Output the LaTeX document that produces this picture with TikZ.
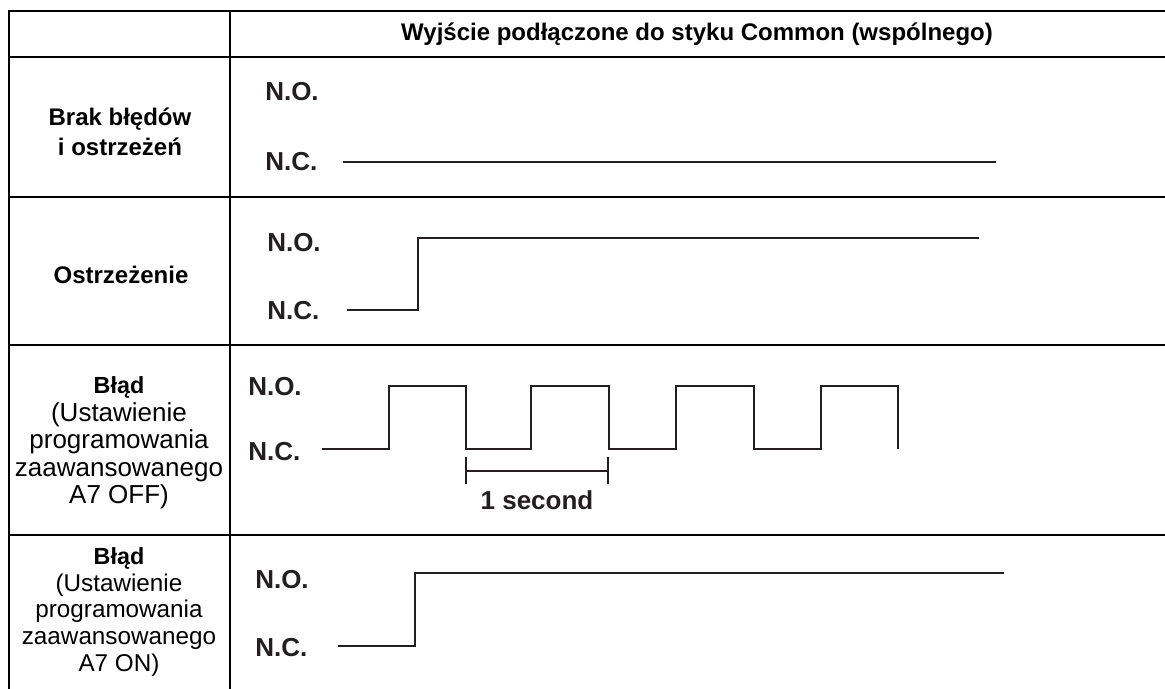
\documentclass[tikz,border=0pt]{standalone}
\usepackage{fontspec}
\setmainfont{Liberation Sans}
\definecolor{ink}{HTML}{231F20}
\begin{document}
\begin{tikzpicture}[x=0.75pt,y=-0.75pt,
  grid/.style={line width=2.2pt, draw=black, line join=miter},
  wave/.style={line width=1.6pt, draw=ink, line join=miter},
  level/.style={font=\bfseries\fontsize{19.5}{22}\selectfont, text=ink, anchor=west, inner sep=0pt},
  head/.style={font=\bfseries\fontsize{18}{22.5}\selectfont, align=center, inner sep=0pt},
  note3/.style={font=\fontsize{19.5}{20.6}\selectfont, align=center, inner sep=0pt},
  note4/.style={font=\fontsize{18.2}{20}\selectfont, align=center, inner sep=0pt},
  tagline/.style={font=\bfseries\fontsize{19.5}{22}\selectfont, text=ink, inner sep=0pt}]
\useasboundingbox (0,0) rectangle (1165,689);

% table frame and rules
\draw[grid] (1165,11) -- (9,11) -- (9,689);
\draw[grid] (230,11) -- (230,689);
\foreach \yy in {57,197,345,535}
  \draw[grid] (9,\yy) -- (1165,\yy);

% header
\node[head] (hdr) at (697,34) {Wyjście podłączone do styku Common (wspólnego)};

% row labels
\node[head] (r1) at (120,132) {Brak błędów\\i ostrzeżeń};
\node[head] (r2) at (121,275) {Ostrzeżenie};
\node[note3] (r3) at (119,443) {{\bfseries\fontsize{17.5}{20.6}\selectfont Błąd}\\(Ustawienie\\programowania\\zaawansowanego\\A7 OFF)};
\node[note4] (r4) at (119,612) {{\bfseries\fontsize{17.5}{20}\selectfont Błąd}\\(Ustawienie\\programowania\\zaawansowanego\\A7 ON)};

% row 1: no errors, no warnings
\node[level] (no1) at (265,92) {N.O.};
\node[level] (nc1) at (265,162) {N.C.};
\draw[wave] (343,162) -- (996,162);

% row 2: warning
\node[level] (no2) at (267,243) {N.O.};
\node[level] (nc2) at (267,311) {N.C.};
\draw[wave] (347,310) -- (418,310) -- (418,238) -- (979,238);

% row 3: error, A7 OFF (pulsing output)
\node[level] (no3) at (248,387) {N.O.};
\node[level] (nc3) at (248,452) {N.C.};
\draw[wave] (322,449) -- (389,449) -- (389,386) -- (466,386) -- (466,449)
  -- (531,449) -- (531,386) -- (609,386) -- (609,449)
  -- (676,449) -- (676,386) -- (754,386) -- (754,449)
  -- (821,449) -- (821,386) -- (898,386) -- (898,449);
\coordinate (pA) at (466,471);
\coordinate (pB) at (608,471);
\draw[wave] (pA) -- (pB);
\draw[wave] (466,457) -- (466,484);
\draw[wave] (608,457) -- (608,484);
\node[tagline] (sec) at (537,500) {1 second};

% row 4: error, A7 ON
\node[level] (no4) at (255,580) {N.O.};
\node[level] (nc4) at (255,648) {N.C.};
\draw[wave] (338,646) -- (415,646) -- (415,573) -- (1004,573);
\end{tikzpicture}
\end{document}
